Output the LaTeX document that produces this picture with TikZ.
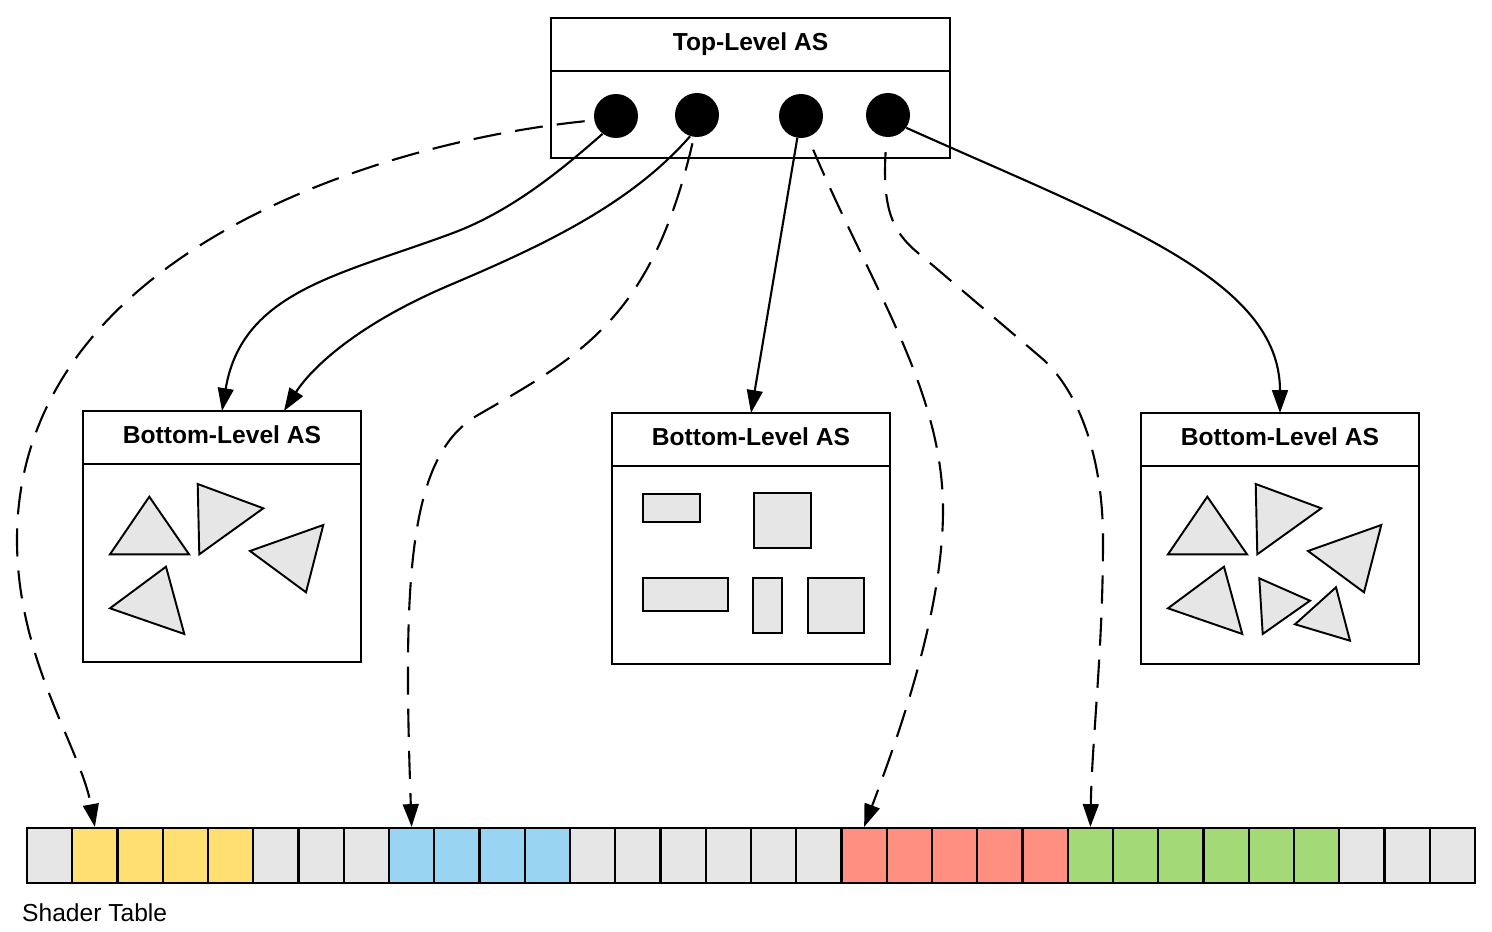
\documentclass[tikz,border=0pt]{standalone}
\usepackage{fontspec}
\setmainfont{Liberation Sans}
\usetikzlibrary{arrows.meta,calc}

\definecolor{primgray}{RGB}{230,230,230}
\definecolor{hityellow}{RGB}{255,223,113}
\definecolor{hitblue}{RGB}{154,212,243}
\definecolor{hitred}{RGB}{255,143,128}
\definecolor{hitgreen}{RGB}{163,217,119}

\begin{document}
\begin{tikzpicture}[x=0.02cm,y=-0.02cm,
	box/.style={draw, line width=1.5pt, inner sep=0pt, outer sep=0pt},
	head/.style={box, font=\bfseries\fontsize{14}{16}\selectfont, minimum height=1.06cm, text height=10pt, text depth=3.5pt},
	dot/.style={circle, fill=black, inner sep=0pt, minimum size=0.88cm},
	cell/.style={draw, line width=1.2pt, minimum width=0.905cm, minimum height=1.1cm, inner sep=0pt},
	prim/.style={draw, fill=primgray, line width=1.1pt},
	link/.style={line width=1.2pt, -{Triangle[length=13pt,width=9pt]}},
	slot/.style={link, dash pattern=on 16pt off 8pt}]
	%\draw[help lines] (0,0) grid[step=1cm] (1492,932);
	\useasboundingbox (0,0) rectangle (1492,932);
	\node[head, minimum width=7.98cm] (tl) at (750.5,44.5) {Top-Level AS};
	\node[box, minimum width=7.98cm, minimum height=1.74cm, anchor=north] (tlbody) at (tl.south) {};
	\foreach \n/\x/\y in {1/616/116, 2/697/115, 3/801/116, 4/888/115}
		\node[dot] (c\n) at (\x,\y) {};
	\foreach \n/\x/\y in {1/222/437.5, 2/751/439.5, 3/1280/439.5}{
		\node[head, minimum width=5.56cm] (bl\n) at (\x,\y) {Bottom-Level AS};
		\node[box, minimum width=5.56cm, minimum height=3.96cm, anchor=north] (bl\n body) at (bl\n.south) {};
	}
	% triangles, left and right
	\foreach \s in {0,1058}{
		\draw[prim, shift={(\s,0)}] (149.3,496.7) -- (110,554.3) -- (189,554.3) -- cycle;
		\draw[prim, shift={(\s,0)}] (197.7,484) -- (263.3,508.3) -- (199.3,554.3) -- cycle;
		\draw[prim, shift={(\s,0)}] (323.3,525) -- (250,551) -- (306,592.3) -- cycle;
		\draw[prim, shift={(\s,0)}] (166,566.7) -- (110,608.3) -- (184.3,634) -- cycle;
	}
	\draw[prim] (1259.3,578.3) -- (1310,600.7) -- (1262.7,634) -- cycle;
	\draw[prim] (1336,587.3) -- (1295,624.3) -- (1350,640.7) -- cycle;
	% boxes, middle
	\draw[prim] (643.3,494.3) rectangle (700,522.3);
	\draw[prim] (754.3,493.3) rectangle (811,548.3);
	\draw[prim] (643.3,578.3) rectangle (727.7,610.7);
	\draw[prim] (753.3,578.3) rectangle (782.3,633.3);
	\draw[prim] (807.7,578.3) rectangle (864.3,633.3);
	% shader table
	\foreach \c [count=\i] in {primgray,hityellow,hityellow,hityellow,hityellow,primgray,primgray,primgray,
		hitblue,hitblue,hitblue,hitblue,primgray,primgray,primgray,primgray,primgray,primgray,
		hitred,hitred,hitred,hitred,hitred,hitgreen,hitgreen,hitgreen,hitgreen,hitgreen,hitgreen,
		primgray,primgray,primgray}
		\node[cell, fill=\c] (st\i) at ({27+45.25*(\i-0.5)},855.5) {};
	\node[anchor=west, font=\fontsize{14}{16}\selectfont] (stname) at (16,913) {Shader Table};
	% instance -> BLAS
	\draw[link] (c1.-127) .. controls (557,174) and (509,212) .. (453,233)
		.. controls (340.6,274.9) and (242,291) .. (bl1.north);
	\draw[link] (c2.-108) .. controls (630.6,204.5) and (542,246) .. (450,285)
		.. controls (330,336) and (298,389) .. ($(bl1.north)+(62,0)$);
	\draw[link] (c3) -- (bl2.north);
	\draw[link] (c4.-35) .. controls (1116,222) and (1280,279) .. (bl3.north);
	% instance -> shader table
	\draw[slot, shorten <=5.4pt] (c1.-169) .. controls (365,144) and (17,260) .. (17,540)
		.. controls (17,660) and (80.6,747.6) .. (st2.north);
	\draw[slot, shorten <=3.6pt] (c2.-98) .. controls (651.6,317.6) and (582,355) .. (478,415)
		.. controls (408.7,455) and (402.5,576) .. (st9.north);
	\draw[slot, shorten <=7.7pt] (c3.-72.5) .. controls (871.7,288) and (943,390) .. (943,510)
		.. controls (943,610) and (900,732) .. (st19.north);
	\draw[slot, shorten <=8.4pt] (c4.-94.7) .. controls (882,215) and (895,235) .. (923,257)
		-- (1040,356.7) .. controls (1075,386) and (1103,450) .. (1103,540)
		.. controls (1103,650) and (1092,740) .. (st24.north);
\end{tikzpicture}
\end{document}
